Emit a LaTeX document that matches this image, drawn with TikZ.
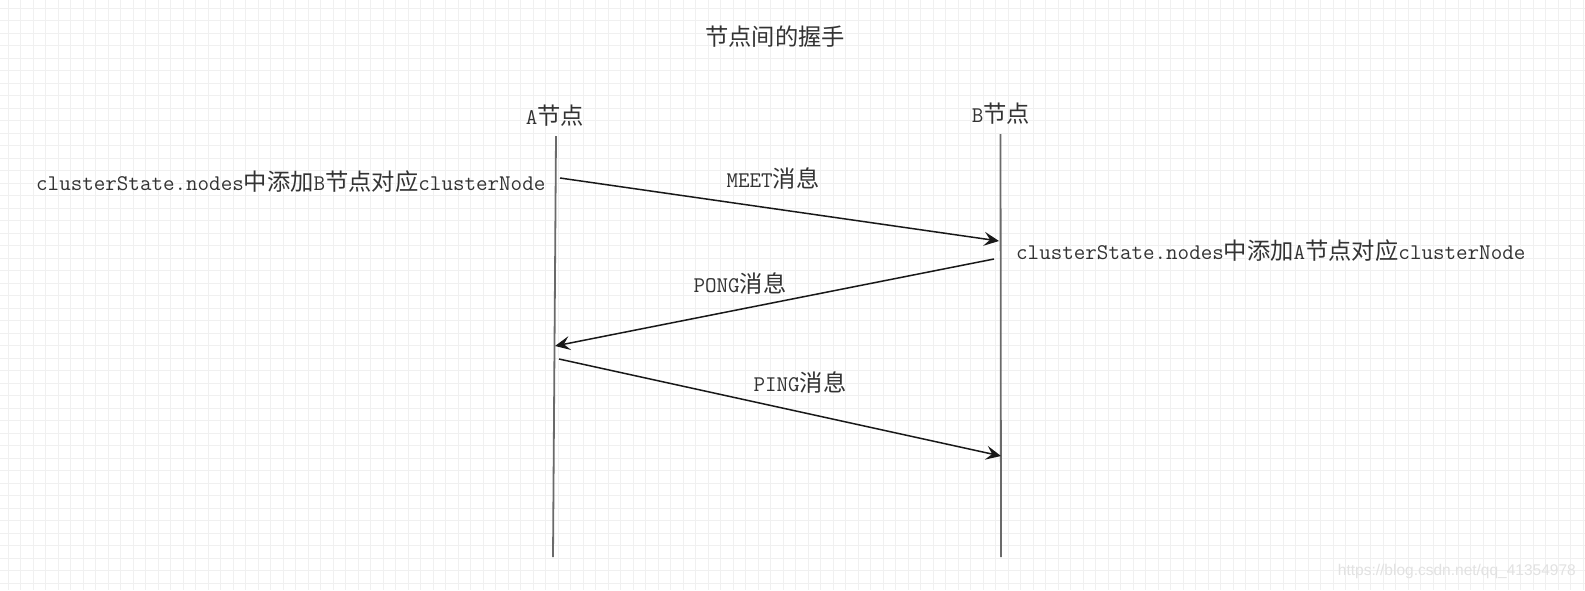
\documentclass[tikz,border=0pt]{standalone}
\usepackage{fontspec}
\setmonofont{Latin Modern Mono}
\newfontfamily\cjkf{Noto Sans CJK SC}[Scale=1.04]
\newfontfamily\wmfont{Liberation Sans}
\newcommand\zh[1]{{\cjkf #1}}
\usetikzlibrary{arrows.meta}
\definecolor{gridc}{HTML}{F0F0F0}
\definecolor{txt}{HTML}{333333}
\definecolor{lifec}{HTML}{6A6A6A}
\definecolor{wmc}{HTML}{E2E2E2}
\tikzset{
  gridline/.style={draw=gridc, line width=1.3pt},
  lbl/.style={font=\ttfamily\fontsize{22.4}{26}\selectfont, text=txt, inner sep=0pt},
  lifeline/.style={draw=lifec, line width=1.8pt},
  msg/.style={draw=black!90, line width=1.5pt, -{Stealth[length=15pt, width=14pt, inset=6pt]}},
}
\begin{document}
\begin{tikzpicture}[x=1pt,y=-1pt]
\useasboundingbox (0,0) rectangle (1585,590);
\fill[white] (0,0) rectangle (1585,590);
% grid
\foreach \i in {0,...,126} {\draw[gridline] ({8.3+12.5*\i},0) -- ({8.3+12.5*\i},590);}
\foreach \j in {0,...,46} {\draw[gridline] (0,{8.3+12.5*\j}) -- (1585,{8.3+12.5*\j});}
% title
\node[lbl] (title) at (775,37) {\zh{节点间的握手}};
% lifeline heads
\node[lbl] (Ahead) at (555,116) {A\zh{节点}};
\node[lbl] (Bhead) at (1001,114) {B\zh{节点}};
% lifelines
\coordinate (Atop) at (556,136);
\coordinate (Abot) at (553,557);
\coordinate (Btop) at (1000.5,134);
\coordinate (Bbot) at (1001,557);
\draw[lifeline] (Atop) -- (Abot);
\draw[lifeline] (Btop) -- (Bbot);
% message endpoints
\coordinate (m1s) at (560,178);
\coordinate (m1e) at (999,241);
\coordinate (m2s) at (994,259);
\coordinate (m2e) at (555,346);
\coordinate (m3s) at (559,359);
\coordinate (m3e) at (1001,456);
\draw[msg] (m1s) -- (m1e);
\draw[msg] (m2s) -- (m2e);
\draw[msg] (m3s) -- (m3e);
% labels
\node[lbl] (meet) at (773,179) {MEET\zh{消息}};
\node[lbl] (pong) at (740,284) {PONG\zh{消息}};
\node[lbl] (ping) at (800,383) {PING\zh{消息}};
\node[lbl, anchor=west] (atext) at (36,182) {clusterState.nodes\zh{中添加}B\zh{节点对应}clusterNode};
\node[lbl, anchor=west] (btext) at (1016,251) {clusterState.nodes\zh{中添加}A\zh{节点对应}clusterNode};
% watermark
\node[font=\wmfont\fontsize{15.5}{17}\selectfont, text=wmc, inner sep=0pt, anchor=east] (wm) at (1576,571) {https://blog.csdn.net/qq\_41354978};
\end{tikzpicture}
\end{document}
